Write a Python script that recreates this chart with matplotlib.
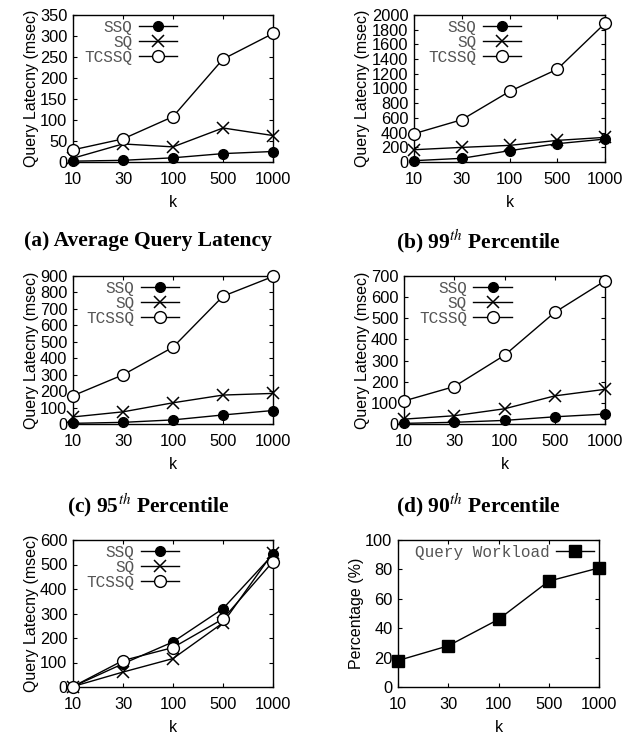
import matplotlib
matplotlib.use("Agg")
import matplotlib.pyplot as plt

plt.rcParams['font.family'] = ['Liberation Sans', 'DejaVu Sans']
plt.rcParams['mathtext.fontset'] = 'stix'

k_labels = ['10', '30', '100', '500', '1000']

# panel (a) average latency
avg_ssq = [2, 4, 10, 20, 25]
avg_sq = [9, 43, 36, 81, 63]
avg_tcssq = [29, 55, 108, 245, 306]

# panel (b) 99th percentile
p99_ssq = [18, 50, 154, 249, 312]
p99_sq = [167, 199, 226, 294, 335]
p99_tcssq = [385, 575, 960, 1262, 1887]

# panel (c) 95th percentile
p95_ssq = [4, 10, 25, 55, 82]
p95_sq = [43, 74, 129, 176, 186]
p95_tcssq = [172, 299, 467, 777, 897]

# panel (d) 90th percentile
p90_ssq = [3, 8, 17, 34, 47]
p90_sq = [23, 39, 72, 133, 164]
p90_tcssq = [109, 177, 325, 528, 677]

# panel (e)
e_ssq = [2, 95, 184, 320, 541]
e_sq = [2, 61, 116, 262, 548]
e_tcssq = [2, 108, 161, 278, 512]

# panel (f) workload percentage
workload = [18, 28, 46, 72, 81]

W, H = 635, 738
fig = plt.figure(figsize=(W / 100, H / 100), dpi=100)

legend_font = {'family': 'Liberation Mono', 'size': 11.5}


def make_axes(left, right, top, bottom):
    return fig.add_axes([left / W, 1 - bottom / H, (right - left) / W, (bottom - top) / H])


def style(ax, ymax, ystep, ylabel):
    x = range(len(k_labels))
    ax.set_xlim(0, len(k_labels) - 1)
    ax.set_xticks(list(x))
    ax.set_xticklabels(k_labels)
    ax.set_ylim(0, ymax)
    ax.set_yticks(range(0, ymax + 1, ystep))
    ax.tick_params(direction='in', length=3, width=0.8, top=True, right=True,
                   labelsize=11.8, pad=4)
    ax.tick_params(axis='x', pad=7)
    for s in ax.spines.values():
        s.set_linewidth(1.0)
    ax.set_xlabel('k', fontsize=11.5, labelpad=6)
    ax.set_ylabel(ylabel, fontsize=11.5, labelpad=1)


def grey_legend(ax, anchor_x, spacing):
    leg = ax.legend(loc='upper right', bbox_to_anchor=(anchor_x, 1.0), frameon=False,
                    markerfirst=False, handlelength=2.4, handletextpad=0.4,
                    labelspacing=spacing, borderaxespad=0.1, borderpad=0.2,
                    prop=legend_font)
    for t in leg.get_texts():
        t.set_color('#555555')


def latency_panel(ax, ssq, sq, tcssq, ymax, ystep, anchor_x):
    x = range(len(k_labels))
    ax.plot(x, ssq, '-', color='black', lw=1, marker='o', ms=7, mfc='black',
            mec='black', clip_on=False, zorder=3, label='SSQ')
    ax.plot(x, sq, '-', color='black', lw=1, marker='x', ms=8, mew=1.1,
            clip_on=False, zorder=3, label='SQ')
    ax.plot(x, tcssq, '-', color='black', lw=1, marker='o', ms=8.5, mfc='white',
            mec='black', mew=1.0, clip_on=False, zorder=3, label='TCSSQ')
    style(ax, ymax, ystep, 'Query Latecny (msec)')
    grey_legend(ax, anchor_x, 0.0)


ax_a = make_axes(73, 273, 15, 162)
latency_panel(ax_a, avg_ssq, avg_sq, avg_tcssq, 350, 50, 0.545)

ax_b = make_axes(414, 605, 15, 162)
latency_panel(ax_b, p99_ssq, p99_sq, p99_tcssq, 2000, 200, 0.585)

ax_c = make_axes(73, 273, 276, 424)
latency_panel(ax_c, p95_ssq, p95_sq, p95_tcssq, 900, 100, 0.555)

ax_d = make_axes(404, 605, 276, 424)
latency_panel(ax_d, p90_ssq, p90_sq, p90_tcssq, 700, 100, 0.56)

ax_e = make_axes(73, 273, 540, 687)
latency_panel(ax_e, e_ssq, e_sq, e_tcssq, 600, 100, 0.555)

ax_f = make_axes(398, 599, 540, 687)
ax_f.plot(range(len(k_labels)), workload, '-', color='black', lw=1, marker='s', ms=8,
          mfc='black', mec='black', clip_on=False, zorder=3, label='Query Workload')
style(ax_f, 100, 20, 'Percentage (%)')
grey_legend(ax_f, 1.0, 0.0)

cap = dict(fontsize=15.5, fontweight='bold', family='Liberation Serif',
           ha='center', va='center')
fig.text(148 / W, 1 - 241 / H, '(a) Average Query Latency', **cap)
fig.text(478 / W, 1 - 241 / H, r'(b) 99$^{th}$ Percentile', **cap)
fig.text(148 / W, 1 - 505 / H, r'(c) 95$^{th}$ Percentile', **cap)
fig.text(478 / W, 1 - 505 / H, r'(d) 90$^{th}$ Percentile', **cap)

fig.savefig('out.png', dpi=100)
